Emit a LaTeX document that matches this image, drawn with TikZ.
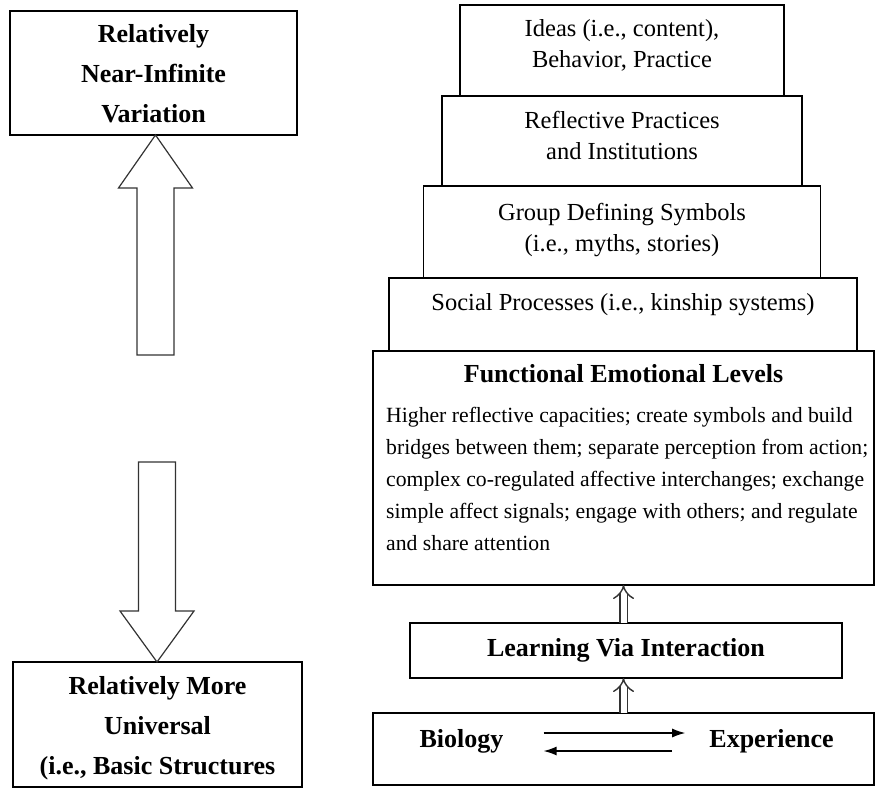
\documentclass[tikz,border=0pt]{standalone}
\usepackage{fontspec}
\setmainfont{Liberation Serif}
\usetikzlibrary{positioning,arrows.meta}

\tikzset{
  tier/.style={draw, line width=1.1pt, inner sep=0pt, outer sep=0pt},
  tiertext/.style={align=center, inner sep=0pt, font=\fontsize{24.5}{31.5}\selectfont},
  headtext/.style={align=center, inner sep=0pt, font=\fontsize{26}{40}\selectfont\bfseries},
  bodytext/.style={align=left, inner sep=0pt, font=\fontsize{21.7}{32}\selectfont},
  hollow/.style={draw=black!80, line width=1.2pt, line join=miter},
  link/.style={draw=black!80, double=white, double distance=6pt, line width=1.4pt, -{Implies[length=9pt,width=22pt]}},
  flow/.style={line width=1.3pt, -{Latex[length=13pt,width=9pt]}}
}

\begin{document}
\begin{tikzpicture}[x=1pt, y=-1pt]
  \useasboundingbox (0,0) rectangle (875,790);

  % Left column boxes
  \node[tier, minimum width=287, minimum height=124] (variation) at (153.5,73) {};
  \node[headtext, below=13pt of variation.north] (variationtext) {Relatively\\Near-Infinite\\Variation};

  \node[tier, minimum width=289, minimum height=125] (universal) at (157.5,724.5) {};
  \node[headtext, below=14pt of universal.north] (universaltext) {Relatively More\\Universal\\(i.e., Basic Structures};

  % Hollow arrows
  \coordinate (uptail) at (155.5,355);
  \coordinate (uptip) at (uptail |- variation.south);
  \draw[hollow] (uptip) -- ++(37,53) -- ++(-18.5,0) -- ([xshift=18.5pt]uptail)
    -- ([xshift=-18.5pt]uptail) -- ++(0,-167) -- ++(-18.5,0) -- cycle;

  \coordinate (downtail) at (157,462);
  \coordinate (downtip) at (downtail |- universal.north);
  \draw[hollow] (downtip) -- ++(37,-51) -- ++(-18.5,0) -- ([xshift=18.5pt]downtail)
    -- ([xshift=-18.5pt]downtail) -- ++(0,149) -- ++(-18.5,0) -- cycle;

  % Right column, stacked tiers
  \node[tier, minimum width=324, minimum height=91] (ideas) at (622,50.5) {};
  \node[tier, minimum width=360, minimum height=90, below=0pt of ideas] (reflective) {};
  \node[tier, minimum width=397, minimum height=92, below=0pt of reflective] (group) {};
  \node[tier, minimum width=468, minimum height=73, below=0pt of group, xshift=1pt] (social) {};
  \node[tier, minimum width=501, minimum height=234, below=0pt of social, xshift=0.5pt] (func) {};

  \node[tiertext, below=14pt of ideas.north] (ideastext) {Ideas (i.e., content),\\Behavior, Practice};
  \node[tiertext, below=15pt of reflective.north] (reflectivetext) {Reflective Practices\\and Institutions};
  \node[tiertext, below=17pt of group.north] (grouptext) {Group Defining Symbols\\(i.e., myths, stories)};
  \node[tiertext, below=15pt of social.north] (socialtext) {Social Processes (i.e., kinship systems)};

  \node[headtext, below=13pt of func.north] (functitle) {Functional Emotional Levels};
  \node[bodytext, anchor=north west] (funcbody) at ([xshift=13pt, yshift=-56pt]func.north west)
    {Higher reflective capacities; create symbols and build\\
     bridges between them; separate perception from action;\\
     complex co-regulated affective interchanges; exchange\\
     simple affect signals; engage with others; and regulate\\
     and share attention};

  \node[tier, headtext, minimum width=432, minimum height=55, below=38pt of func, xshift=2.5pt] (learning) {Learning Via Interaction};
  \node[tier, minimum width=501, minimum height=72, below=35pt of learning, xshift=-2.5pt] (bio) {};

  \node[headtext, anchor=base] (biology) at (461.5,747) {Biology};
  \node[headtext, anchor=base] (experience) at (771.5,747) {Experience};

  % Links between tiers
  \draw[link] (learning.north -| func.south) -- (func.south);
  \draw[link] (bio.north) -- (learning.south -| bio.north);

  % Biology <-> Experience
  \draw[flow, shorten <=40pt, shorten >=24pt] ([yshift=14pt]biology.base east) -- ([yshift=14pt]experience.base west);
  \draw[flow, shorten <=37pt, shorten >=40pt] ([yshift=-4pt]experience.base west) -- ([yshift=-4pt]biology.base east);
\end{tikzpicture}
\end{document}
